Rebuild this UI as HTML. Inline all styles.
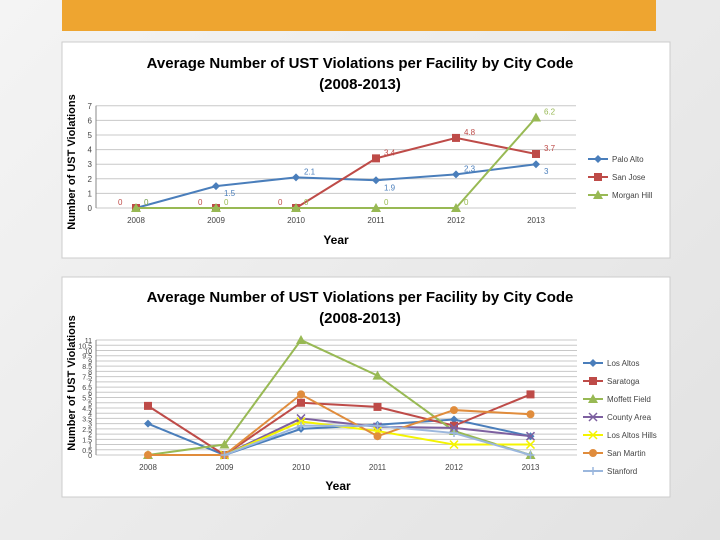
<!DOCTYPE html>
<html><head><meta charset="utf-8"><style>
body{margin:0;width:720px;height:540px;overflow:hidden;background:linear-gradient(135deg,#f4f4f4,#e2e2e2);font-family:"Liberation Sans",sans-serif}
svg{position:absolute;left:0;top:0}
</style></head><body>
<svg id="s" width="720" height="540">
<rect x="62" y="0" width="594" height="31" fill="#eea530"/>
<rect x="62" y="42" width="608" height="216" fill="#fff" stroke="#ccc"/>
<rect x="62" y="277" width="608" height="220" fill="#fff" stroke="#ccc"/>
<text x="360" y="68" text-anchor="middle" font-size="15" font-weight="bold">Average Number of UST Violations per Facility by City Code</text>
<text x="360" y="89" text-anchor="middle" font-size="15" font-weight="bold">(2008-2013)</text>
<text x="336" y="244" text-anchor="middle" font-size="12" font-weight="bold">Year</text>
<text transform="translate(75,162) rotate(-90)" text-anchor="middle" font-size="11" font-weight="bold">Number of UST Violations</text>
<text x="360" y="302" text-anchor="middle" font-size="15" font-weight="bold">Average Number of UST Violations per Facility by City Code</text>
<text x="360" y="323" text-anchor="middle" font-size="15" font-weight="bold">(2008-2013)</text>
<text x="338" y="490" text-anchor="middle" font-size="12" font-weight="bold">Year</text>
<text transform="translate(75,383) rotate(-90)" text-anchor="middle" font-size="11" font-weight="bold">Number of UST Violations</text>
<g id="c1"></g><g id="c2"></g>
</svg>
<script>
const years=["2008","2009","2010","2011","2012","2013"];
const s1Names=["Palo Alto","San Jose","Morgan Hill"];
const paloAlto=[0,1.5,2.1,1.9,2.3,3];
const sanJose=[0,0,0,3.4,4.8,3.7];
const morganHill=[0,0,0,0,0,6.2];
const s1Ticks=[0,1,2,3,4,5,6,7];
const s2Names=["Los Altos","Saratoga","Moffett Field","County Area","Los Altos Hills","San Martin","Stanford"];
const losAltos=[3,0,2.5,2.9,3.4,1.8];
const saratoga=[4.7,0,5,4.6,2.8,5.8];
const moffett=[0,1,11,7.6,2.3,0];
const countyArea=[null,0,3.5,2.7,2.6,1.8];
const losAltosHills=[null,0,3.2,2.3,1,1];
const sanMartin=[0,0,5.8,1.8,4.3,3.9];
const stanford=[null,0,2.8,2.8,2.1,0];
const s2Ticks=[0,0.5,1,1.5,2,2.5,3,3.5,4,4.5,5,5.5,6,6.5,7,7.5,8,8.5,9,9.5,10,10.5,11];
const NS="http://www.w3.org/2000/svg";
function mk(p,t,a){const e=document.createElementNS(NS,t);for(const k in a)e.setAttribute(k,a[k]);p.appendChild(e);return e;}
function marker(g,type,x,y,c){
 if(type=="d")return mk(g,"path",{d:`M${x} ${y-4}L${x+4} ${y}L${x} ${y+4}L${x-4} ${y}Z`,fill:c});
 if(type=="s")return mk(g,"rect",{x:x-4,y:y-4,width:8,height:8,fill:c});
 if(type=="t")return mk(g,"path",{d:`M${x} ${y-5}L${x+5} ${y+4}L${x-5} ${y+4}Z`,fill:c});
 if(type=="c")return mk(g,"circle",{cx:x,cy:y,r:4,fill:c});
 if(type=="x")return mk(g,"path",{d:`M${x-4} ${y-4}L${x+4} ${y+4}M${x+4} ${y-4}L${x-4} ${y+4}`,stroke:c,"stroke-width":1.5});
 return mk(g,"path",{d:`M${x-4} ${y}L${x+4} ${y}M${x} ${y-4}L${x} ${y+4}`,stroke:c,"stroke-width":1.5});
}
function chart(g,o){
 const xs=i=>o.x0+i*o.step, ys=v=>o.y0-v*o.unit;
 o.ticks.forEach(t=>{const l=mk(g,"line",{x1:o.left,x2:o.right,y1:ys(t),y2:ys(t),stroke:"#c8c8c8"});
  const tx=mk(g,"text",{x:o.left-4,y:ys(t)+3,"text-anchor":"end","font-size":o.tfs,fill:"#444"});tx.textContent=t;});
 mk(g,"line",{x1:o.left,x2:o.left,y1:ys(o.ticks[o.ticks.length-1]),y2:o.y0,stroke:"#888"});
 years.forEach((y,i)=>{const t=mk(g,"text",{x:xs(i),y:o.y0+15,"text-anchor":"middle","font-size":8,fill:"#444"});t.textContent=y;});
 o.series.forEach((s,si)=>{
  const sg=mk(g,"g",{});
  let d="";s.v.forEach((v,i)=>{if(v==null)return;d+=(d?"L":"M")+xs(i)+" "+ys(v);});
  mk(sg,"path",{d,fill:"none",stroke:s.c,"stroke-width":2});
  s.v.forEach((v,i)=>{if(v==null)return;const m=marker(sg,s.m,xs(i),ys(v),s.c);
   if(o.labels){const t=mk(sg,"text",{x:xs(i)+(v==0&&si==1?-18:8),y:ys(v)+(si==0&&v>0&&i%2==1?10:-3),"font-size":8,fill:s.c});t.textContent=v;}});
  const ly=o.ly+si*o.lstep,lg=mk(g,"g",{});
  mk(lg,"line",{x1:o.lx,x2:o.lx+20,y1:ly,y2:ly,stroke:s.c,"stroke-width":2});marker(lg,s.m,o.lx+10,ly,s.c);
  const t=mk(lg,"text",{x:o.lx+24,y:ly+3,"font-size":8,fill:"#444"});t.textContent=s.name;
 });
}
chart(document.getElementById("c1"),{x0:136,step:80,y0:208,unit:14.6,left:96,right:576,ticks:s1Ticks,tfs:8,labels:true,lx:588,ly:159,lstep:18,
 series:[{name:s1Names[0],v:paloAlto,c:"#4a7ebb",m:"d"},{name:s1Names[1],v:sanJose,c:"#be4b48",m:"s"},{name:s1Names[2],v:morganHill,c:"#98b954",m:"t"}]});
chart(document.getElementById("c2"),{x0:148,step:76.5,y0:455,unit:10.45,left:96,right:577,ticks:s2Ticks,tfs:7,labels:false,lx:583,ly:363,lstep:18,
 series:[{name:s2Names[0],v:losAltos,c:"#4a7ebb",m:"d"},{name:s2Names[1],v:saratoga,c:"#be4b48",m:"s"},{name:s2Names[2],v:moffett,c:"#98b954",m:"t"},{name:s2Names[3],v:countyArea,c:"#7d60a0",m:"x"},{name:s2Names[4],v:losAltosHills,c:"#f4f400",m:"x"},{name:s2Names[5],v:sanMartin,c:"#e08c3c",m:"c"},{name:s2Names[6],v:stanford,c:"#9bb7dd",m:"p"}]});
</script>
</body></html>
